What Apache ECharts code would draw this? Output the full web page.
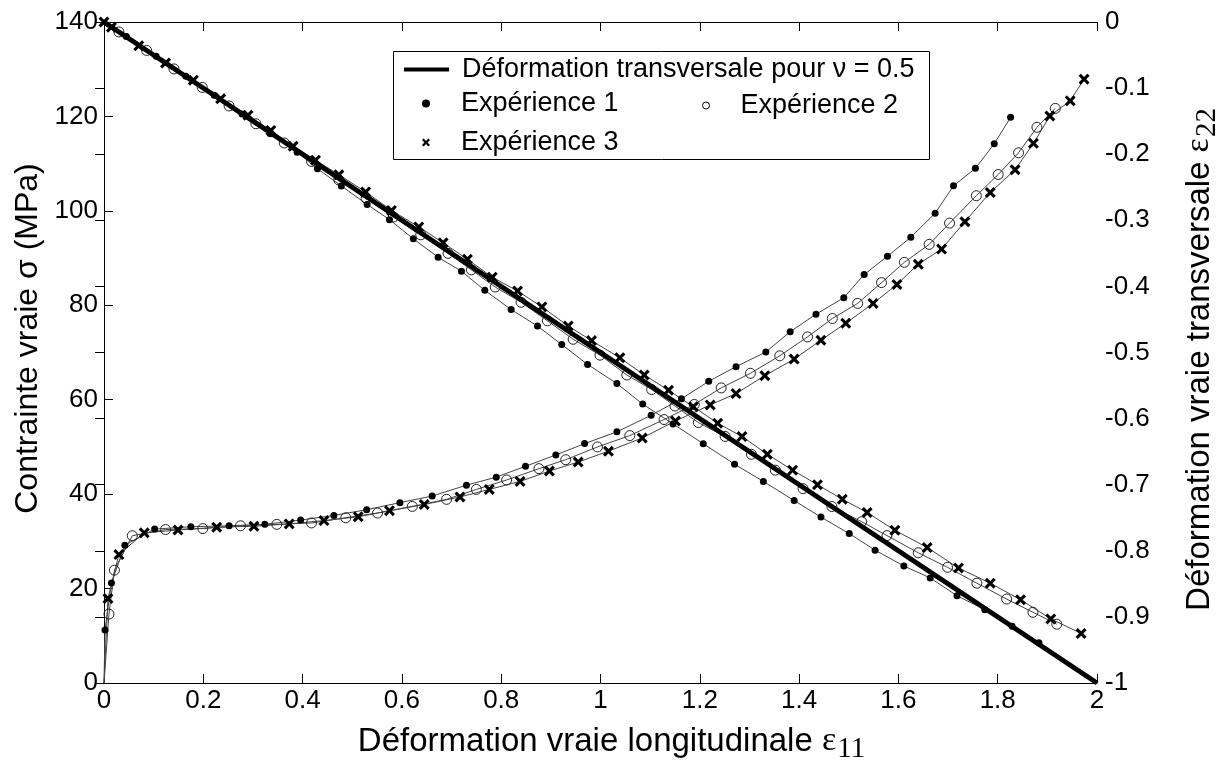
<!DOCTYPE html>
<html>
<head>
<meta charset="utf-8">
<script src="https://cdn.jsdelivr.net/npm/echarts@6/dist/echarts.min.js"></script>
<style>
html,body{margin:0;padding:0;background:#fff;}
#chart{width:1221px;height:762px;}
</style>
</head>
<body>
<div id="chart"></div>
<script>
// ---------- data ----------
var xTicks = {min: 0, max: 2, interval: 0.2};
var stressTicks = {min: 0, max: 140, interval: 20};
var strainTicks = {min: -1, max: 0, interval: 0.1};

var theoryLabel = 'Déformation transversale pour ν = 0.5';
var expLabels = ['Expérience 1', 'Expérience 2', 'Expérience 3'];

var theory = [[0, 0], [2, -1]];

var exp1Stress = [[0,0],[0.002,11.2],[0.015,21.2],[0.042,29.2],[0.102,32.6],[0.175,33.1],[0.252,33.3],[0.324,33.6],[0.396,34.5],[0.463,35.5],[0.529,36.7],[0.596,38.2],[0.661,39.6],[0.730,41.9],[0.790,43.6],[0.849,45.9],[0.910,48.3],[0.968,50.7],[1.033,53.2],[1.102,56.7],[1.163,60.2],[1.218,63.9],[1.273,67.0],[1.333,70.1],[1.382,74.4],[1.434,78.1],[1.490,81.6],[1.531,86.5],[1.578,90.4],[1.625,94.4],[1.674,99.5],[1.711,105.3],[1.755,109.0],[1.793,114.2],[1.826,119.8]];

var exp2Stress = [[0,0],[0.010,14.6],[0.021,23.9],[0.057,31.2],[0.124,32.5],[0.199,32.7],[0.275,33.3],[0.348,33.6],[0.418,33.9],[0.487,35.0],[0.551,36.0],[0.621,37.4],[0.690,38.9],[0.750,41.0],[0.811,43.0],[0.876,45.4],[0.930,47.3],[0.994,50.0],[1.059,52.4],[1.128,55.8],[1.189,59.0],[1.243,62.5],[1.302,65.6],[1.361,69.3],[1.417,73.3],[1.467,77.2],[1.518,80.4],[1.566,84.8],[1.612,89.1],[1.662,92.9],[1.703,97.4],[1.757,103.2],[1.801,107.7],[1.842,112.3],[1.879,117.7],[1.916,121.7]];

var exp3Stress = [[0,0],[0.008,17.9],[0.030,27.2],[0.081,31.8],[0.149,32.4],[0.227,33.0],[0.302,33.2],[0.373,33.7],[0.443,34.4],[0.512,35.2],[0.575,36.5],[0.645,37.8],[0.717,39.4],[0.776,41.0],[0.838,42.7],[0.897,44.9],[0.955,46.8],[1.016,49.1],[1.084,51.9],[1.151,55.5],[1.221,58.9],[1.273,61.3],[1.331,65.1],[1.390,68.6],[1.444,72.6],[1.494,76.2],[1.549,80.4],[1.597,84.4],[1.640,88.7],[1.687,91.9],[1.734,97.7],[1.785,103.9],[1.835,108.7],[1.872,114.3],[1.905,120.1],[1.946,123.3],[1.974,127.9]];

var exp1Trans = [[0,0],[0.045,-0.022],[0.105,-0.052],[0.165,-0.082],[0.222,-0.111],[0.278,-0.139],[0.335,-0.169],[0.389,-0.197],[0.430,-0.222],[0.478,-0.248],[0.530,-0.276],[0.575,-0.299],[0.623,-0.328],[0.673,-0.356],[0.720,-0.377],[0.767,-0.406],[0.820,-0.435],[0.873,-0.460],[0.922,-0.488],[0.974,-0.518],[1.033,-0.547],[1.085,-0.578],[1.146,-0.608],[1.207,-0.638],[1.270,-0.669],[1.328,-0.695],[1.390,-0.724],[1.444,-0.749],[1.501,-0.774],[1.553,-0.799],[1.611,-0.823],[1.664,-0.841],[1.718,-0.868],[1.774,-0.889],[1.829,-0.914],[1.883,-0.939]];

var exp2Trans = [[0,0],[0.030,-0.015],[0.086,-0.043],[0.141,-0.071],[0.198,-0.099],[0.252,-0.127],[0.306,-0.154],[0.363,-0.183],[0.418,-0.211],[0.473,-0.239],[0.528,-0.267],[0.583,-0.295],[0.638,-0.322],[0.693,-0.350],[0.740,-0.375],[0.788,-0.401],[0.840,-0.424],[0.893,-0.452],[0.945,-0.480],[0.999,-0.504],[1.053,-0.534],[1.103,-0.556],[1.150,-0.581],[1.197,-0.606],[1.251,-0.627],[1.304,-0.654],[1.352,-0.678],[1.408,-0.706],[1.466,-0.733],[1.526,-0.756],[1.577,-0.777],[1.640,-0.803],[1.699,-0.825],[1.758,-0.849],[1.818,-0.873],[1.871,-0.893],[1.919,-0.911]];

var exp3Trans = [[0,0],[0.015,-0.008],[0.070,-0.036],[0.124,-0.062],[0.180,-0.088],[0.235,-0.116],[0.290,-0.141],[0.336,-0.164],[0.381,-0.188],[0.426,-0.209],[0.473,-0.231],[0.527,-0.257],[0.579,-0.285],[0.634,-0.310],[0.683,-0.334],[0.732,-0.359],[0.782,-0.386],[0.833,-0.407],[0.882,-0.431],[0.935,-0.460],[0.982,-0.482],[1.039,-0.508],[1.088,-0.534],[1.137,-0.557],[1.187,-0.582],[1.236,-0.607],[1.285,-0.627],[1.336,-0.654],[1.387,-0.678],[1.437,-0.700],[1.487,-0.722],[1.537,-0.742],[1.593,-0.769],[1.658,-0.795],[1.721,-0.826],[1.785,-0.849],[1.846,-0.874],[1.907,-0.903],[1.968,-0.925]];

// ---------- styles ----------
var FONT = 'Liberation Sans';
var crossPath = 'path://M0,2 L2,0 L5,3 L8,0 L10,2 L7,5 L10,8 L8,10 L5,7 L2,10 L0,8 L3,5 Z';
var markers = [
  {symbol: 'circle', size: 7, itemStyle: {color: '#000', borderWidth: 0}},
  {symbol: 'circle', size: 10, itemStyle: {color: 'rgba(255,255,255,0)', borderColor: '#222', borderWidth: 1}},
  {symbol: crossPath, size: 11, itemStyle: {color: '#000', borderWidth: 0}}
];

function noOriginMarker(arr) {
  return arr.map(function (p, i) { return i === 0 ? {value: p, symbol: 'none'} : p; });
}

function expSeries(idx, data, axisIdx, hideFirst) {
  var m = markers[idx];
  return {
    name: expLabels[idx], type: 'line', xAxisIndex: 0, yAxisIndex: axisIdx,
    data: hideFirst ? noOriginMarker(data) : data,
    symbol: m.symbol, symbolSize: m.size, showAllSymbol: true,
    itemStyle: m.itemStyle,
    lineStyle: {color: '#444', width: 1},
    z: 2, animation: false
  };
}

var series = [
  expSeries(0, exp1Stress, 0, true),
  expSeries(1, exp2Stress, 0, true),
  expSeries(2, exp3Stress, 0, true),
  expSeries(0, exp1Trans, 1, true),
  expSeries(1, exp2Trans, 1, true),
  expSeries(2, exp3Trans, 1, false),
  {
    name: theoryLabel, type: 'line', xAxisIndex: 0, yAxisIndex: 1,
    data: theory, symbol: 'none',
    lineStyle: {color: '#000', width: 5},
    itemStyle: {color: '#000'},
    z: 3, animation: false
  }
];

function legendAt(name, left, top, icon, w, h, pad, itemStyle) {
  var l = {
    data: [{name: name, icon: icon}], left: left, top: top, orient: 'horizontal',
    itemWidth: w, itemHeight: h, padding: 0, selectedMode: false,
    textStyle: {fontFamily: FONT, fontSize: 27, color: '#000', padding: [0, 0, 0, pad]},
    z: 10
  };
  if (itemStyle) l.itemStyle = itemStyle;
  return l;
}

var axisLabelStyle = {fontFamily: FONT, fontSize: 26, color: '#000'};
var axisLineStyle = {show: true, lineStyle: {color: '#000', width: 1}};
var tickStyle = {show: true, inside: true, length: 9, lineStyle: {color: '#000'}};
var subRich = {
  g: {fontFamily: 'Liberation Serif', fontSize: 34, color: '#000'},
  s: {fontFamily: 'Liberation Serif', fontSize: 29, color: '#000', padding: [16, 0, 0, 1]}
};

var option = {
  animation: false,
  backgroundColor: '#fff',
  grid: {left: 104, right: 124, top: 22, bottom: 79, containLabel: false, outerBoundsMode: 'none'},
  graphic: [{
    type: 'rect', z: 8,
    shape: {x: 393.5, y: 51.5, width: 536, height: 108},
    style: {fill: '#fff', stroke: '#000', lineWidth: 1}
  }],
  legend: [
    legendAt(theoryLabel, 404, 56, 'rect', 45, 4, 8),
    legendAt(expLabels[0], 422, 90, 'circle', 8, 8, 26),
    legendAt(expLabels[1], 702, 92, 'circle', 7, 7, 26,
      {color: 'rgba(255,255,255,0)', borderColor: '#000', borderWidth: 1}),
    legendAt(expLabels[2], 422, 129, crossPath, 8, 8, 26)
  ],
  xAxis: [{
    type: 'value', position: 'bottom',
    min: xTicks.min, max: xTicks.max, interval: xTicks.interval,
    name: 'Déformation vraie longitudinale {g|ε}{s|11}',
    nameLocation: 'middle', nameGap: 36,
    nameTextStyle: {fontFamily: FONT, fontSize: 33, color: '#000', padding: [0, 0, 0, 22], rich: subRich},
    axisLine: axisLineStyle, axisTick: tickStyle,
    axisLabel: Object.assign({margin: 5}, axisLabelStyle),
    splitLine: {show: false}
  }, {
    type: 'value', position: 'top',
    min: xTicks.min, max: xTicks.max, interval: xTicks.interval,
    axisLine: axisLineStyle, axisTick: tickStyle,
    axisLabel: {show: false},
    splitLine: {show: false}
  }],
  yAxis: [{
    type: 'value', position: 'left',
    min: stressTicks.min, max: stressTicks.max, interval: stressTicks.interval,
    name: 'Contrainte vraie σ (MPa)',
    nameLocation: 'middle', nameGap: 58, nameRotate: 90,
    nameTextStyle: {fontFamily: FONT, fontSize: 32, color: '#000', padding: [0, 0, 0, 28]},
    axisLine: axisLineStyle, axisTick: tickStyle,
    axisLabel: Object.assign({margin: 6}, axisLabelStyle),
    splitLine: {show: false}
  }, {
    type: 'value', position: 'right',
    min: strainTicks.min, max: strainTicks.max, interval: strainTicks.interval,
    name: 'Déformation vraie transversale {g|ε}{s|22}',
    nameLocation: 'middle', nameGap: 80, nameRotate: 90,
    nameTextStyle: {fontFamily: FONT, fontSize: 33, color: '#000', padding: [0, 14, 0, 0], rich: subRich},
    axisLine: axisLineStyle, axisTick: tickStyle,
    axisLabel: Object.assign({margin: 8}, axisLabelStyle),
    splitLine: {show: false}
  }],
  series: series
};

var chart = echarts.init(document.getElementById('chart'), null, {renderer: 'canvas'});
chart.setOption(option);
</script>
</body>
</html>
